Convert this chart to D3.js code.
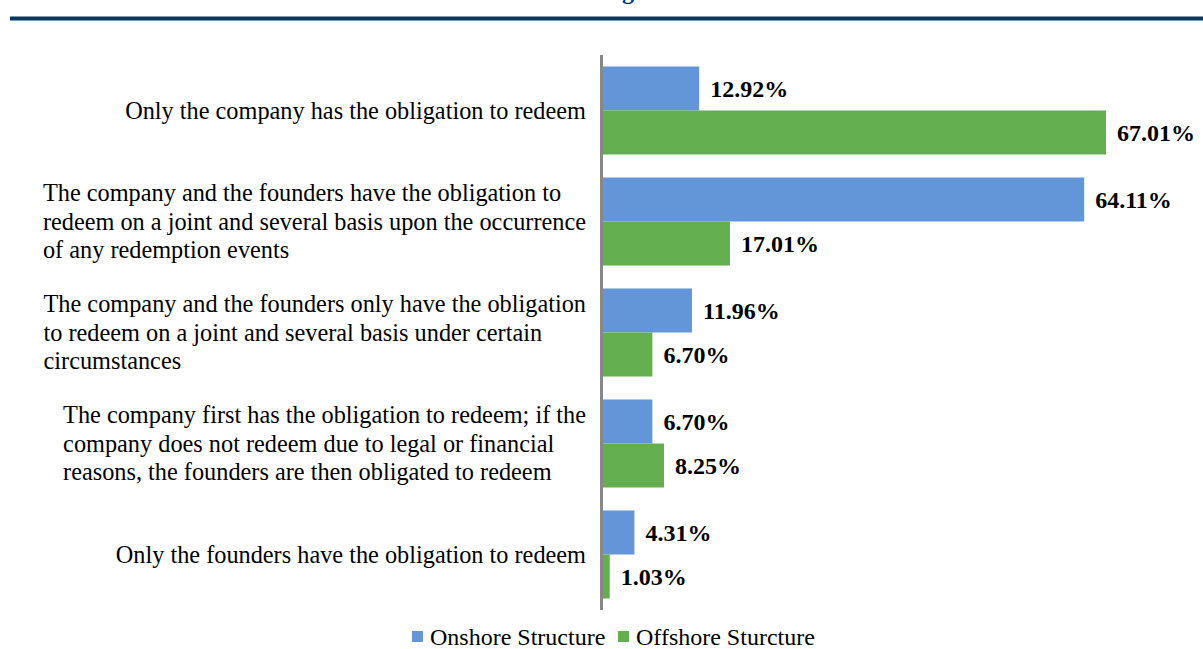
<!DOCTYPE html>
<html><head><meta charset="utf-8">
<script src="https://cdn.jsdelivr.net/npm/d3@7"></script>
<style>body{margin:0;background:#fff}svg{display:block}</style>
</head><body>
<svg id="chart" width="1203" height="649"></svg>
<script>
const categories = [
  ["Only the company has the obligation to redeem"],
  ["The company and the founders have the obligation to","redeem on a joint and several basis upon the occurrence","of any redemption events"],
  ["The company and the founders only have the obligation","to redeem on a joint and several basis under certain","circumstances"],
  ["The company first has the obligation to redeem; if the","company does not redeem due to legal or financial","reasons, the founders are then obligated to redeem"],
  ["Only the founders have the obligation to redeem"]
];
const onshore = [12.92, 64.11, 11.96, 6.70, 4.31];
const offshore = [67.01, 17.01, 6.70, 8.25, 1.03];
const seriesNames = ["Onshore Structure", "Offshore Sturcture"];
const colors = ["#6396D8", "#63AF50"];

const svg = d3.select("#chart");
const font = "'Liberation Serif','Times New Roman',serif";

// top title fragment and rule
svg.append("text").attr("x", 628).attr("y", -1).attr("text-anchor","middle")
  .attr("font-family", font).attr("font-weight","bold").attr("font-size", 24)
  .attr("fill","#003865").text("g");
svg.append("rect").attr("x",10).attr("y",16.5).attr("width",1193).attr("height",4).attr("fill","#003865");

const x = d3.scaleLinear().domain([0, 67.01]).range([602, 1106]);
const y = d3.scaleBand().domain(d3.range(categories.length)).range([55, 610]).paddingInner(0.207).paddingOuter(0.1035);
const sub = d3.scaleBand().domain([0,1]).range([0, y.bandwidth()]);

const data = [onshore, offshore];
data.forEach((vals, s) => {
  const g = svg.append("g");
  g.selectAll("rect").data(vals).join("rect")
    .attr("x", x(0)).attr("y", (d,i) => y(i) + sub(s))
    .attr("width", d => x(d) - x(0)).attr("height", sub.bandwidth())
    .attr("fill", colors[s]);
  g.selectAll("text").data(vals).join("text")
    .attr("x", d => x(d) + 11).attr("y", (d,i) => y(i) + sub(s) + sub.bandwidth()/2)
    .attr("dy","0.35em")
    .attr("font-family", font).attr("font-weight","bold").attr("font-size", 24)
    .attr("fill","#000").text(d => d.toFixed(2) + "%");
});

// axis line
svg.append("line").attr("x1", 601.5).attr("x2", 601.5).attr("y1", 55).attr("y2", 610)
  .attr("stroke","#888").attr("stroke-width",3);

// category labels: block right-aligned to the axis, lines left-aligned within the block
const lh = 28.5;
categories.forEach((lines, i) => {
  const cy = y(i) + y.bandwidth()/2;
  const t = svg.append("text").attr("text-anchor","start")
    .attr("font-family", font).attr("font-size", 24.3).attr("fill","#000");
  const spans = lines.map((ln, j) => t.append("tspan")
      .attr("y", cy + (j - (lines.length-1)/2) * lh).attr("dy","0.33em").text(ln));
  const maxW = d3.max(spans, sp => sp.node().getComputedTextLength());
  spans.forEach(sp => sp.attr("x", 586 - maxW));
});

// legend
const leg = [[412, 430], [618, 636]];
seriesNames.forEach((n, s) => {
  svg.append("rect").attr("x", leg[s][0]).attr("y", 631).attr("width", 11).attr("height", 11).attr("fill", colors[s]);
  svg.append("text").attr("x", leg[s][1]).attr("y", 637).attr("dy","0.33em")
    .attr("font-family", font).attr("font-size", 24).attr("fill","#000").text(n);
});
</script>
</body></html>
